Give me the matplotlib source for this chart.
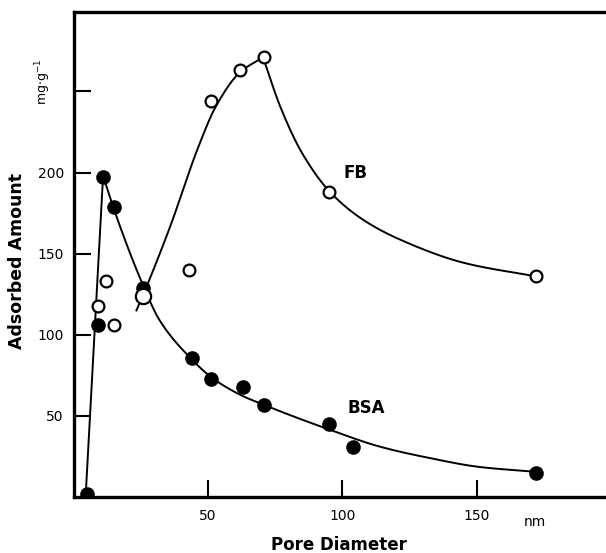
import numpy as np
import matplotlib
matplotlib.use('Agg')
import matplotlib.pyplot as plt

# measured points (pore diameter in nm, adsorbed amount in mg/g)
bsa_x = [5, 9, 11, 15, 26, 44, 51, 63, 71, 95, 104, 172]
bsa_y = [2, 106, 197, 179, 129, 86, 73, 68, 57, 45, 31, 15]
fb_x = [9, 12, 15, 43, 51, 62, 71, 95, 172]
fb_y = [118, 133, 106, 140, 244, 263, 271, 188, 136]
fb_big_x = [26]
fb_big_y = [124]

# hand drawn guide curves (pieces split at the sharp corners)
bsa_rise_x = [4.5, 11]
bsa_rise_y = [0, 198]
bsa_fall_x = [11, 14.5, 26, 32, 43.3, 51.5, 62, 70.5, 95.4, 114, 132.5, 151, 172]
bsa_fall_y = [198, 180, 130, 109, 86, 73.5, 63, 57, 41.4, 31, 24, 18.5, 15.5]
fb_rise_x = [23.4, 26, 36, 46, 53, 62, 70.5]
fb_rise_y = [115, 125, 167, 214, 241, 262, 271]
fb_fall_x = [70.5, 76.8, 85, 95.4, 107.6, 121, 146, 172]
fb_fall_y = [271, 241, 212, 188, 171, 159, 144, 136]


def pchip(xs, ys, n=400):
    # shape preserving cubic through the knots (Fritsch-Carlson)
    x = np.asarray(xs, float)
    y = np.asarray(ys, float)
    h = np.diff(x)
    d = np.diff(y) / h
    m = np.zeros_like(x)
    m[0], m[-1] = d[0], d[-1]
    for i in range(1, len(x) - 1):
        if d[i - 1] * d[i] > 0:
            w1 = 2 * h[i] + h[i - 1]
            w2 = h[i] + 2 * h[i - 1]
            m[i] = (w1 + w2) / (w1 / d[i - 1] + w2 / d[i])
    xx = np.linspace(x[0], x[-1], n)
    k = np.clip(np.searchsorted(x, xx) - 1, 0, len(x) - 2)
    t = (xx - x[k]) / h[k]
    h00 = 2 * t ** 3 - 3 * t ** 2 + 1
    h10 = t ** 3 - 2 * t ** 2 + t
    h01 = -2 * t ** 3 + 3 * t ** 2
    h11 = t ** 3 - t ** 2
    yy = h00 * y[k] + h10 * h[k] * m[k] + h01 * y[k + 1] + h11 * h[k] * m[k + 1]
    return xx, yy


plt.rcParams['font.family'] = 'DejaVu Sans'
fig = plt.figure(figsize=(6.06, 5.53), dpi=100)
ax = fig.add_axes([73.5 / 606, 56 / 553, 532.5 / 606, 485 / 553])

ax.plot(bsa_rise_x, bsa_rise_y, color='black', lw=1.4)
for xs, ys in [(bsa_fall_x, bsa_fall_y), (fb_rise_x, fb_rise_y), (fb_fall_x, fb_fall_y)]:
    cx, cy = pchip(xs, ys)
    ax.plot(cx, cy, color='black', lw=1.4)

ax.plot(bsa_x, bsa_y, 'o', color='black', ms=9.5, zorder=3)
ax.plot(fb_x, fb_y, 'o', mfc='white', mec='black', mew=1.6, ms=8.5, zorder=4)
ax.plot(fb_big_x, fb_big_y, 'o', mfc='white', mec='black', mew=1.6, ms=11, zorder=4)

ax.set_xlim(0, 198)
ax.set_ylim(0, 299)
ax.set_xticks([50, 100, 150])
ax.set_yticks([50, 100, 150, 200, 250])
ax.set_yticklabels(['50', '100', '150', '200', ''])
ax.tick_params(direction='in', length=12, width=1.5, labelsize=10, pad=7)
ax.tick_params(axis='x', pad=9)

for s in ['left', 'top', 'bottom']:
    ax.spines[s].set_linewidth(2.4)
ax.spines['right'].set_visible(False)

ax.text(105, 200, 'FB', fontsize=12, fontweight='bold', ha='center', va='center')
ax.text(109, 55, 'BSA', fontsize=12, fontweight='bold', ha='center', va='center')

fig.text(339 / 606, 1 - 545 / 553, 'Pore Diameter', fontsize=12, fontweight='bold',
         ha='center', va='center')
fig.text(535 / 606, 1 - 522 / 553, 'nm', fontsize=10, ha='center', va='center')
fig.text(17 / 606, 1 - 261 / 553, 'Adsorbed Amount', fontsize=12.5, fontweight='bold',
         rotation=90, ha='center', va='center')
fig.text(43 / 606, 1 - 82 / 553, r'mg$\cdot$g$^{-1}$', fontsize=9, rotation=90,
         ha='center', va='center')

plt.savefig('out.png', dpi=100)
